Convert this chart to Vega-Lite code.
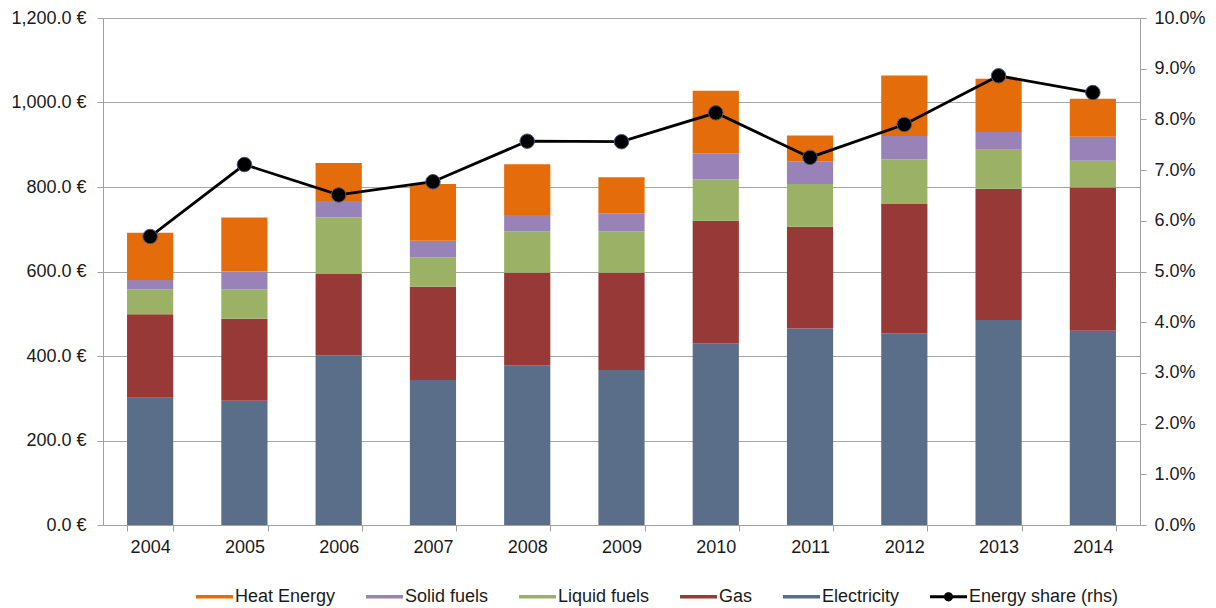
{
  "$schema": "https://vega.github.io/schema/vega-lite/v6.json",
  "width": 1037,
  "height": 507,
  "autosize": {"type": "none"},
  "padding": {"left": 103, "top": 18, "right": 76, "bottom": 83},
  "background": "white",
  "config": {
    "view": {"stroke": null},
    "font": "Liberation Sans",
    "axis": {"labelFont": "Liberation Sans", "labelFontSize": 18, "labelColor": "#1a1a1a", "domainColor": "#a0a0a0", "tickColor": "#a0a0a0", "tickSize": 6, "title": null}
  },
  "datasets": {
    "bars": [
      {"year": "2004", "category": "Electricity", "value": 301},
      {"year": "2004", "category": "Gas", "value": 198},
      {"year": "2004", "category": "Liquid fuels", "value": 59},
      {"year": "2004", "category": "Solid fuels", "value": 22},
      {"year": "2004", "category": "Heat Energy", "value": 112},
      {"year": "2005", "category": "Electricity", "value": 294},
      {"year": "2005", "category": "Gas", "value": 194},
      {"year": "2005", "category": "Liquid fuels", "value": 70},
      {"year": "2005", "category": "Solid fuels", "value": 42},
      {"year": "2005", "category": "Heat Energy", "value": 128},
      {"year": "2006", "category": "Electricity", "value": 402},
      {"year": "2006", "category": "Gas", "value": 192},
      {"year": "2006", "category": "Liquid fuels", "value": 134},
      {"year": "2006", "category": "Solid fuels", "value": 39},
      {"year": "2006", "category": "Heat Energy", "value": 90},
      {"year": "2007", "category": "Electricity", "value": 343},
      {"year": "2007", "category": "Gas", "value": 221},
      {"year": "2007", "category": "Liquid fuels", "value": 70},
      {"year": "2007", "category": "Solid fuels", "value": 39},
      {"year": "2007", "category": "Heat Energy", "value": 134},
      {"year": "2008", "category": "Electricity", "value": 378},
      {"year": "2008", "category": "Gas", "value": 219},
      {"year": "2008", "category": "Liquid fuels", "value": 98},
      {"year": "2008", "category": "Solid fuels", "value": 39},
      {"year": "2008", "category": "Heat Energy", "value": 120},
      {"year": "2009", "category": "Electricity", "value": 367},
      {"year": "2009", "category": "Gas", "value": 230},
      {"year": "2009", "category": "Liquid fuels", "value": 98},
      {"year": "2009", "category": "Solid fuels", "value": 43},
      {"year": "2009", "category": "Heat Energy", "value": 85},
      {"year": "2010", "category": "Electricity", "value": 430},
      {"year": "2010", "category": "Gas", "value": 290},
      {"year": "2010", "category": "Liquid fuels", "value": 98},
      {"year": "2010", "category": "Solid fuels", "value": 62},
      {"year": "2010", "category": "Heat Energy", "value": 148},
      {"year": "2011", "category": "Electricity", "value": 465},
      {"year": "2011", "category": "Gas", "value": 241},
      {"year": "2011", "category": "Liquid fuels", "value": 101},
      {"year": "2011", "category": "Solid fuels", "value": 54},
      {"year": "2011", "category": "Heat Energy", "value": 61},
      {"year": "2012", "category": "Electricity", "value": 454},
      {"year": "2012", "category": "Gas", "value": 306},
      {"year": "2012", "category": "Liquid fuels", "value": 105},
      {"year": "2012", "category": "Solid fuels", "value": 56},
      {"year": "2012", "category": "Heat Energy", "value": 143},
      {"year": "2013", "category": "Electricity", "value": 485},
      {"year": "2013", "category": "Gas", "value": 311},
      {"year": "2013", "category": "Liquid fuels", "value": 92},
      {"year": "2013", "category": "Solid fuels", "value": 42},
      {"year": "2013", "category": "Heat Energy", "value": 126},
      {"year": "2014", "category": "Electricity", "value": 460},
      {"year": "2014", "category": "Gas", "value": 339},
      {"year": "2014", "category": "Liquid fuels", "value": 63},
      {"year": "2014", "category": "Solid fuels", "value": 57},
      {"year": "2014", "category": "Heat Energy", "value": 90}
    ],
    "share": [
      {"year": "2004", "share": 0.0569},
      {"year": "2005", "share": 0.0711},
      {"year": "2006", "share": 0.0651},
      {"year": "2007", "share": 0.0677},
      {"year": "2008", "share": 0.0757},
      {"year": "2009", "share": 0.0756},
      {"year": "2010", "share": 0.0813},
      {"year": "2011", "share": 0.0725},
      {"year": "2012", "share": 0.0790},
      {"year": "2013", "share": 0.0886},
      {"year": "2014", "share": 0.0853}
    ]
  },
  "layer": [
    {
      "data": {"name": "bars"},
      "transform": [
        {"calculate": "indexof(['Electricity','Gas','Liquid fuels','Solid fuels','Heat Energy'], datum.category)", "as": "stackorder"}
      ],
      "mark": {"type": "bar"},
      "encoding": {
        "x": {
          "field": "year", "type": "ordinal",
          "scale": {"paddingInner": 0.51, "paddingOuter": 0.255},
          "axis": {"labelAngle": 0, "tickBand": "extent", "labelPadding": 7, "grid": false}
        },
        "y": {
          "field": "value", "type": "quantitative", "stack": "zero",
          "scale": {"domain": [0, 1200], "nice": false},
          "axis": {
            "orient": "left",
            "values": [0, 200, 400, 600, 800, 1000, 1200],
            "labelExpr": "format(datum.value, ',.1f') + ' €'",
            "grid": true, "gridColor": "#a6a6a6", "gridWidth": 1,
            "labelPadding": 11
          }
        },
        "color": {
          "field": "category", "type": "nominal",
          "scale": {
            "domain": ["Heat Energy", "Solid fuels", "Liquid fuels", "Gas", "Electricity", "Energy share (rhs)"],
            "range": ["#E46C0A", "#9982B8", "#9AB166", "#973937", "#5A6D89", "#000000"]
          },
          "legend": {
            "orient": "none", "legendX": 93, "legendY": 560,
            "direction": "horizontal", "columns": 6,
            "title": null,
            "labelFont": "Liberation Sans", "labelFontSize": 18, "labelColor": "#1a1a1a",
            "symbolSize": 1369, "labelOffset": 2, "columnPadding": 30,
            "symbolStrokeWidth": 0,
            "encode": {
              "symbols": {
                "update": {
                  "shape": {"signal": "datum.value === 'Energy share (rhs)' ? 'M-1,-0.08H1V0.08H-1Z M0.25,0A0.25,0.25 0 1,1 -0.25,0A0.25,0.25 0 1,1 0.25,0Z' : 'M-1,-0.1H1V0.1H-1Z'"},
                  "strokeWidth": {"value": 0}
                }
              }
            }
          }
        },
        "order": {"field": "stackorder", "type": "quantitative"}
      }
    },
    {
      "data": {"name": "share"},
      "encoding": {
        "x": {"field": "year", "type": "ordinal"},
        "y": {
          "field": "share", "type": "quantitative",
          "scale": {"domain": [0, 0.1], "nice": false},
          "axis": {
            "orient": "right",
            "values": [0, 0.01, 0.02, 0.03, 0.04, 0.05, 0.06, 0.07, 0.08, 0.09, 0.1],
            "format": ".1%",
            "grid": false,
            "labelPadding": 8
          }
        }
      },
      "layer": [
        {"mark": {"type": "line", "color": "#000000", "strokeWidth": 2.8}},
        {"mark": {"type": "point", "filled": true, "color": "#000000", "size": 210, "opacity": 1, "stroke": "#4a5a78", "strokeWidth": 1}}
      ]
    }
  ],
  "resolve": {"scale": {"y": "independent"}}
}
